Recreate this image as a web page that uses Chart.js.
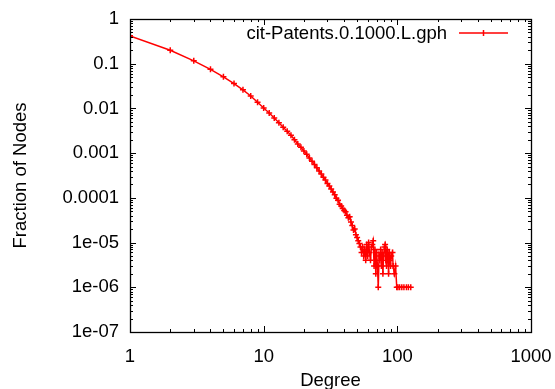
<!DOCTYPE html>
<html>
<head>
<meta charset="utf-8">
<script src="https://cdn.jsdelivr.net/npm/chart.js@4/dist/chart.umd.min.js"></script>
<style>
  body { margin: 0; background: #fff; }
  #wrap { width: 555px; height: 389px; }
</style>
</head>
<body>
<div id="wrap"><canvas id="degChart" width="555" height="389"></canvas></div>
<script>
// degree distribution
const degrees = [
  1, 2, 3, 4, 5, 6, 7, 8, 9, 10,
  11, 12, 13, 14, 15, 16, 17, 18, 19, 20,
  21, 22, 23, 24, 25, 26, 27, 28, 29, 30,
  31, 32, 33, 34, 35, 36, 37, 38, 39, 40,
  41, 42, 43, 44, 45, 46, 47, 48, 49, 50,
  51, 52, 53, 54, 55, 56, 57, 58, 59, 60,
  61, 62, 63, 64, 65, 66, 67, 68, 69, 70,
  71, 72, 73, 74, 75, 76, 77, 78, 79, 80,
  81, 82, 83, 84, 85, 86, 87, 88, 89, 90,
  92, 93, 95, 97, 99, 101, 104, 108, 112, 117, 121, 126
];
const fractions = [
  0.42, 0.20, 0.116, 0.075, 0.051, 0.036, 0.026, 0.019, 0.0138, 0.0102,
  0.0079, 0.0061, 0.0048, 0.0038, 0.0031, 0.0025, 0.0020, 0.0016, 0.00135, 0.00112,
  0.00094, 0.00078, 0.00066, 0.00056, 0.00047, 0.00040, 0.00034, 0.00029, 0.00025, 0.00021,
  0.000185, 0.000158, 0.000135, 0.000118, 0.000098, 0.000088, 0.000072, 0.000066, 0.000058, 0.000052,
  0.000049, 0.000041, 0.000036, 0.000038, 0.000029, 0.000024, 0.000019, 0.000020, 0.000015, 0.000013,
  0.000011, 0.0000095, 0.000008, 0.000006, 0.000008, 0.000005, 0.000007, 0.000004, 0.000009, 0.000005,
  0.000010, 0.000006, 0.000004, 0.000008, 0.000009, 0.000011, 0.000003, 0.000007, 0.000002, 0.000006,
  0.000003, 0.000001, 0.000005, 0.000004, 0.000007, 0.000003, 0.000006, 0.000002, 0.000005, 0.000008,
  0.000009, 0.000004, 0.000003, 0.000007, 0.000005, 0.000002, 0.000006, 0.000004, 0.000003, 0.000005,
  0.000006, 0.000003, 0.000002, 0.000003, 0.000001, 0.000001, 0.000001, 0.000001, 0.000001, 0.000001, 0.000001, 0.000001
];
const seriesName = "cit-Patents.0.1000.L.gph";

const xTickValues = [1, 10, 100, 1000];
const xTickLabels = ["1", "10", "100", "1000"];
const yTickValues = [1, 0.1, 0.01, 0.001, 0.0001, 1e-5, 1e-6, 1e-7];
const yTickLabels = ["1", "0.1", "0.01", "0.001", "0.0001", "1e-05", "1e-06", "1e-07"];

const FONT = { family: "'Liberation Sans', Arial, sans-serif", size: 18.5 };
const RED = "#ff0000";

const points = degrees.map((d, i) => ({ x: d, y: fractions[i] }));

// gnuplot-like frame: border on all four sides with inward major/minor ticks
const framePlugin = {
  id: "frame",
  afterDatasetsDraw(chart) {
    const { ctx, chartArea: a, scales } = chart;
    const xs = scales.x, ys = scales.y;
    ctx.save();
    ctx.strokeStyle = "#000";
    ctx.lineWidth = 1;
    ctx.beginPath();
    const tick = (px, len, horiz) => {
      if (horiz) {
        ctx.moveTo(px, a.bottom); ctx.lineTo(px, a.bottom - len);
        ctx.moveTo(px, a.top); ctx.lineTo(px, a.top + len);
      } else {
        ctx.moveTo(a.left, px); ctx.lineTo(a.left + len, px);
        ctx.moveTo(a.right, px); ctx.lineTo(a.right - len, px);
      }
    };
    xTickValues.forEach((v, i) => {
      const p = Math.round(xs.getPixelForValue(v)) + 0.5;
      tick(p, 6, true);
      if (i < xTickValues.length - 1) {
        for (let m = 2; m < 10; m++) tick(Math.round(xs.getPixelForValue(v * m)) + 0.5, 3, true);
      }
    });
    yTickValues.forEach((v, i) => {
      const p = Math.round(ys.getPixelForValue(v)) + 0.5;
      tick(p, 6, false);
      if (i > 0) {
        for (let m = 2; m < 10; m++) tick(Math.round(ys.getPixelForValue(v * m)) + 0.5, 3, false);
      }
    });
    ctx.stroke();
    ctx.lineWidth = 1.3;
    ctx.strokeRect(Math.round(a.left) + 0.5, Math.round(a.top) + 0.5,
      Math.round(a.right - a.left), Math.round(a.bottom - a.top));
    ctx.restore();
  }
};

// key in the top right, text right-aligned before the line sample
const keyPlugin = {
  id: "key",
  afterDraw(chart) {
    const { ctx, chartArea: a } = chart;
    const y = a.top + 14;
    const x1 = a.right - 72, x2 = a.right - 23;
    ctx.save();
    ctx.font = `${FONT.size}px ${FONT.family}`;
    ctx.fillStyle = "#000";
    ctx.textAlign = "right";
    ctx.textBaseline = "middle";
    ctx.fillText(seriesName, x1 - 12, y + 1);
    ctx.strokeStyle = RED;
    ctx.lineWidth = 1.5;
    ctx.beginPath();
    ctx.moveTo(x1, y); ctx.lineTo(x2, y);
    const mx = (x1 + x2) / 2;
    ctx.moveTo(mx, y - 3); ctx.lineTo(mx, y + 3);
    ctx.stroke();
    ctx.restore();
  }
};

new Chart(document.getElementById("degChart"), {
  type: "line",
  data: {
    datasets: [{
      label: seriesName,
      data: points,
      borderColor: RED,
      backgroundColor: RED,
      borderWidth: 1.5,
      pointStyle: "cross",
      pointRadius: 3,
      pointBorderWidth: 1.5,
      tension: 0
    }]
  },
  options: {
    responsive: false,
    animation: false,
    layout: { autoPadding: false, padding: { left: 10, top: 19, right: 24, bottom: -3 } },
    plugins: { legend: { display: false }, tooltip: { enabled: false } },
    scales: {
      x: {
        type: "logarithmic",
        min: 1, max: 1000,
        afterBuildTicks: s => { s.ticks = xTickValues.map(v => ({ value: v })); },
        afterFit: s => { s.height = 60; s.paddingLeft = 0; s.paddingRight = 0; },
        grid: { display: false, drawTicks: false },
        border: { display: false },
        ticks: {
          font: FONT, color: "#000", padding: 14, maxRotation: 0, autoSkip: false,
          callback: (v) => xTickLabels[xTickValues.indexOf(v)]
        },
        title: { display: true, text: "Degree", font: FONT, color: "#000", padding: 0 }
      },
      y: {
        type: "logarithmic",
        min: 1e-7, max: 1,
        afterBuildTicks: s => { s.ticks = yTickValues.map(v => ({ value: v })); },
        afterFit: s => { s.width = 120; s.paddingTop = 0; s.paddingBottom = 0; },
        grid: { display: false, drawTicks: false },
        border: { display: false },
        ticks: {
          font: FONT, color: "#000", padding: 11, autoSkip: false,
          callback: (v) => yTickLabels[yTickValues.indexOf(v)]
        },
        title: { display: true, text: "Fraction of Nodes", font: FONT, color: "#000", padding: 0 }
      }
    }
  },
  plugins: [framePlugin, keyPlugin]
});
</script>
</body>
</html>
